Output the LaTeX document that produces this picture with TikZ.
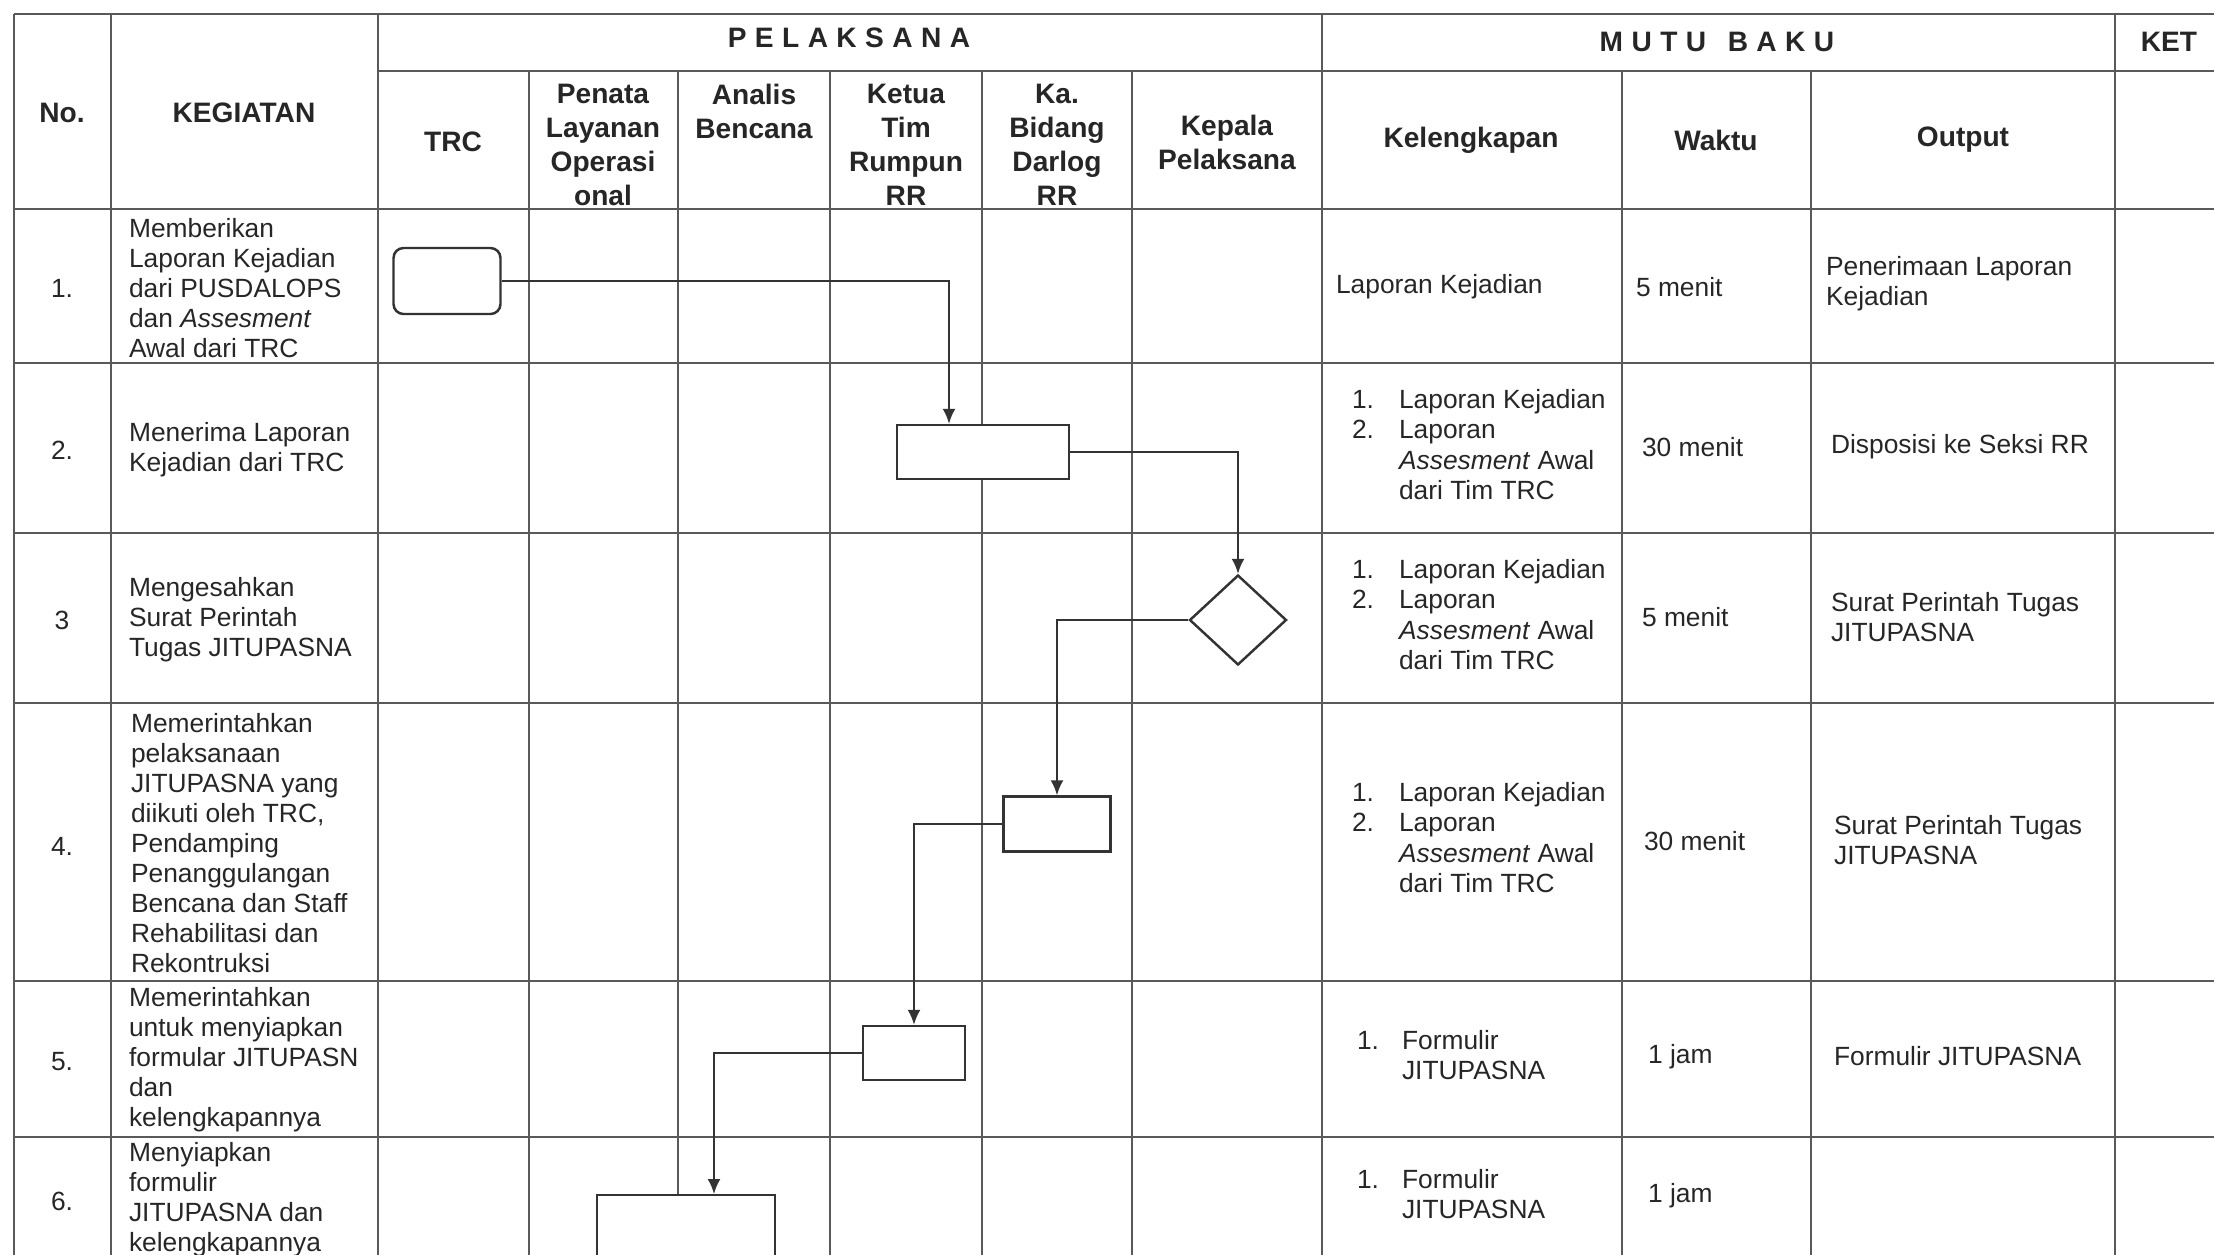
\documentclass[tikz,border=0pt]{standalone}
\usepackage{fontspec}
\setmainfont{Liberation Sans}
\usetikzlibrary{%
  arrows.meta,%
  shapes,%
  shapes.geometric,% wg. diamond
  positioning,%
  calc
}

\begin{document}
\begin{tikzpicture}[
  x=0.1mm, y=-0.1mm, >={Latex[length=1.5mm,width=1.3mm]}, line width=0.6pt,
  grid/.style={draw=black!65, line width=0.6pt},
  hd/.style={font=\fontsize{8}{9.7}\selectfont\bfseries, align=center, inner sep=0pt, text=black!85},
  tx/.style={font=\fontsize{7.5}{8.55}\selectfont, align=left, anchor=west, inner sep=0pt, text=black!85},
  num/.style={font=\fontsize{7.5}{8.55}\selectfont, inner sep=0pt, text=black!85},
  box/.style={draw=black!80, fill=white, line width=0.7pt, inner sep=0pt},
  flow/.style={->, draw=black!80, line width=0.6pt}
]
\useasboundingbox (0,0) rectangle (2214,1254);
\clip (0,0) rectangle (2214,1254);

% table
\draw[grid] (14,14) -- (2240,14);
\draw[grid] (378,71) -- (2240,71);
\foreach \y in {209,363,533,703,981,1137} {
  \draw[grid] (14,\y) -- (2240,\y);
}
\foreach \x in {14,111,378,1322,2115} {
  \draw[grid] (\x,14) -- (\x,1300);
}
\foreach \x in {529,678,830,982,1132,1622,1811} {
  \draw[grid] (\x,71) -- (\x,1300);
}

% header
\node[hd] (hno) at (62,113) {No.};
\node[hd] (hkeg) at (244,113) {KEGIATAN};
\node[hd] (hpel) at (849,38) {\addfontfeature{LetterSpace=30}PELAKSANA};
\node[hd] (htrc) at (453,142) {TRC};
\node[hd] (hpen) at (603,145) {Penata\\Layanan\\Operasi\\onal};
\node[hd] (hana) at (754,111) {Analis\\Bencana};
\node[hd] (hktu) at (906,145) {Ketua\\Tim\\Rumpun\\RR};
\node[hd] (hbid) at (1057,145) {Ka.\\Bidang\\Darlog\\RR};
\node[hd] (hkep) at (1227,142) {Kepala\\Pelaksana};
\node[hd] (hmutu) at (1717,42) {\addfontfeature{LetterSpace=30}MUTU\hspace{1.5pt} BAKU};
\node[hd] (hket) at (2169,42) {KET};
\node[hd] (hkl) at (1471,140) {Kelengkapan};
\node[hd] (hwk) at (1716,140) {Waktu};
\node[hd] (hout) at (1963,140) {Output};

% numbers
\node[num] (n1) at (62,288) {1.};
\node[num] (n2) at (62,450) {2.};
\node[num] (n3) at (62,620) {3};
\node[num] (n4) at (62,846) {4.};
\node[num] (n5) at (62,1062) {5.};
\node[num] (n6) at (62,1201) {6.};

% kegiatan
\node[tx] (k1) at (128,288) {Memberikan\\Laporan Kejadian\\dari PUSDALOPS\\dan \textit{Assesment}\\Awal dari TRC};
\node[tx] (k2) at (128,450) {Menerima Laporan\\Kejadian dari TRC};
\node[tx] (k3) at (128,620) {Mengesahkan\\Surat Perintah\\Tugas JITUPASNA};
\node[tx] (k4) at (130,843) {Memerintahkan\\pelaksanaan\\JITUPASNA yang\\diikuti oleh TRC,\\Pendamping\\Penanggulangan\\Bencana dan Staff\\Rehabilitasi dan\\Rekontruksi};
\node[tx] (k5) at (128,1060) {Memerintahkan\\untuk menyiapkan\\formular JITUPASN\\dan\\kelengkapannya};
\node[tx] (k6) at (128,1200) {Menyiapkan\\formulir\\JITUPASNA dan\\kelengkapannya};

% flow
\node[box, rounded corners=1mm, minimum width=10.7mm, minimum height=6.6mm] (s1) at (447,281) {};
\node[box, minimum width=17.2mm, minimum height=5.4mm] (s2) at (983,452) {};
\node[box, diamond, aspect=1.08, minimum width=9.7mm, minimum height=9mm] (s3) at (1238,620) {};
\node[box, minimum width=10.7mm, minimum height=5.5mm] (s4) at (1057,824) {};
\node[box, minimum width=10.2mm, minimum height=5.4mm] (s5) at (914,1053) {};
\node[box, minimum width=17.8mm, minimum height=10mm, anchor=north] (s6) at (686,1194) {};

\draw[flow] (s1.east) -| ($(s2.north)+(-34,0)$);
\draw[flow] (s2.east) -| (s3.north);
\draw[flow] (s3.west) -| (s4.north);
\draw[flow] (s4.west) -| (s5.north);
\draw[flow] (s5.west) -| ($(s6.north)+(28,0)$);

% mutu baku
\node[tx] (kl1) at (1335,287) {Laporan Kejadian};
\node[tx] (kl2) at (1351,448) {\begin{tabular}{@{}p{4.7mm}@{}l@{}}1. & Laporan Kejadian\\ 2. & Laporan\\ & \textit{Assesment} Awal\\ & dari Tim TRC\end{tabular}};
\node[tx] (kl3) at (1351,618) {\begin{tabular}{@{}p{4.7mm}@{}l@{}}1. & Laporan Kejadian\\ 2. & Laporan\\ & \textit{Assesment} Awal\\ & dari Tim TRC\end{tabular}};
\node[tx] (kl4) at (1351,841) {\begin{tabular}{@{}p{4.7mm}@{}l@{}}1. & Laporan Kejadian\\ 2. & Laporan\\ & \textit{Assesment} Awal\\ & dari Tim TRC\end{tabular}};
\node[tx] (kl5) at (1356,1058) {\begin{tabular}{@{}p{4.5mm}@{}l@{}}1. & Formulir\\ & JITUPASNA\end{tabular}};
\node[tx] (kl6) at (1356,1197) {\begin{tabular}{@{}p{4.5mm}@{}l@{}}1. & Formulir\\ & JITUPASNA\end{tabular}};

\node[tx] (w1) at (1635,287) {5 menit};
\node[tx] (w2) at (1641,447) {30 menit};
\node[tx] (w3) at (1641,617) {5 menit};
\node[tx] (w4) at (1643,841) {30 menit};
\node[tx] (w5) at (1647,1057) {1 jam};
\node[tx] (w6) at (1647,1196) {1 jam};

\node[tx] (o1) at (1825,284) {Penerimaan Laporan\\Kejadian};
\node[tx] (o2) at (1830,447) {Disposisi ke Seksi RR};
\node[tx] (o3) at (1830,617) {Surat Perintah Tugas\\JITUPASNA};
\node[tx] (o4) at (1833,840) {Surat Perintah Tugas\\JITUPASNA};
\node[tx] (o5) at (1833,1056) {Formulir JITUPASNA};
\end{tikzpicture}
\end{document}
